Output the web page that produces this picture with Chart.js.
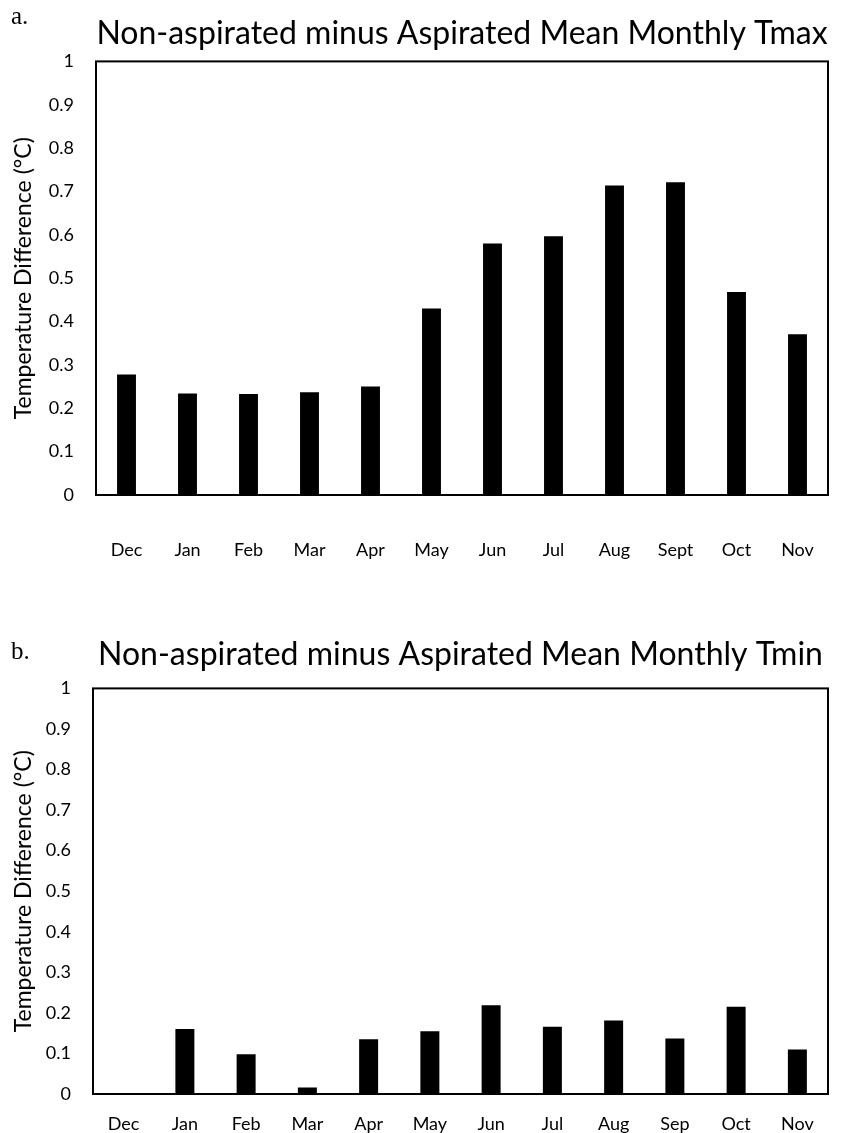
<!DOCTYPE html>
<html>
<head>
<meta charset="utf-8">
<script src="https://cdn.jsdelivr.net/npm/chart.js@4.4.1/dist/chart.umd.min.js"></script>
<style>
  body { margin: 0; background: #fff; }
  canvas { position: absolute; left: 0; }
  .tag { position: absolute; font-family: "Liberation Serif", serif; font-size: 25px; color: #000; }
</style>
</head>
<body>
<canvas id="tmax" width="843" height="580" style="top:0"></canvas>
<canvas id="tmin" width="843" height="533" style="top:600px"></canvas>
<div class="tag" style="left:11px; top:2px;">a.</div>
<div class="tag" style="left:11px; top:637px;">b.</div>
<script>
const tmaxMonths = ["Dec", "Jan", "Feb", "Mar", "Apr", "May", "Jun", "Jul", "Aug", "Sept", "Oct", "Nov"];
const tmaxDiff = [0.278, 0.234, 0.233, 0.237, 0.25, 0.43, 0.58, 0.597, 0.714, 0.721, 0.468, 0.371];

const tminMonths = ["Dec", "Jan", "Feb", "Mar", "Apr", "May", "Jun", "Jul", "Aug", "Sep", "Oct", "Nov"];
const tminDiff = [0, 0.16, 0.098, 0.016, 0.135, 0.155, 0.219, 0.166, 0.181, 0.137, 0.215, 0.11];

const yMin = 0;
const yMax = 1;
const yStep = 0.1;

Chart.defaults.color = "#000";
Chart.defaults.font.family = "Lato";

// box round the plot area
const frame = {
  id: "frame",
  afterDraw(chart) {
    const { ctx, chartArea: a } = chart;
    ctx.save();
    ctx.strokeStyle = "#000";
    ctx.lineWidth = 2;
    ctx.strokeRect(a.left, a.top, a.right - a.left, a.bottom - a.top);
    ctx.restore();
  },
};

function makeChart(id, labels, values, title, o) {
  return new Chart(document.getElementById(id), {
    type: "bar",
    data: {
      labels: labels,
      datasets: [
        {
          data: values,
          backgroundColor: "#000",
          barPercentage: 0.31,
          categoryPercentage: 1,
        },
      ],
    },
    options: {
      responsive: false,
      animation: false,
      layout: { padding: { right: 15 } },
      plugins: {
        legend: { display: false },
        tooltip: { enabled: false },
        title: {
          display: true,
          text: title,
          fullSize: false,
          font: { size: 32, weight: "normal" },
          padding: o.titlePad,
        },
      },
      scales: {
        x: {
          grid: { display: false, drawTicks: false },
          border: { display: false },
          ticks: { font: { size: 18 }, padding: o.xPad, maxRotation: 0, autoSkip: false },
          afterFit: (s) => {
            s.height = o.xHeight;
            s.paddingLeft = 0;
            s.paddingRight = 0;
          },
        },
        y: {
          min: yMin,
          max: yMax,
          grid: { display: false, drawTicks: false },
          border: { display: false },
          ticks: {
            stepSize: yStep,
            font: { size: 18 },
            padding: 22,
            callback: (v) => String(Number(v.toFixed(1))),
          },
          title: {
            display: true,
            text: "Temperature Difference (°C)",
            font: { size: 23 },
            padding: { top: 10, bottom: 4 },
          },
          afterFit: (s) => { s.width = o.yWidth; },
        },
      },
    },
    plugins: [frame],
  });
}

makeChart("tmax", tmaxMonths, tmaxDiff, "Non-aspirated minus Aspirated Mean Monthly Tmax", {
  titlePad: { top: 14, bottom: 9 },
  xPad: 44,
  xHeight: 85,
  yWidth: 96,
});

makeChart("tmin", tminMonths, tminDiff, "Non-aspirated minus Aspirated Mean Monthly Tmin", {
  titlePad: { top: 35, bottom: 15 },
  xPad: 19,
  xHeight: 39,
  yWidth: 93,
});
</script>
</body>
</html>
